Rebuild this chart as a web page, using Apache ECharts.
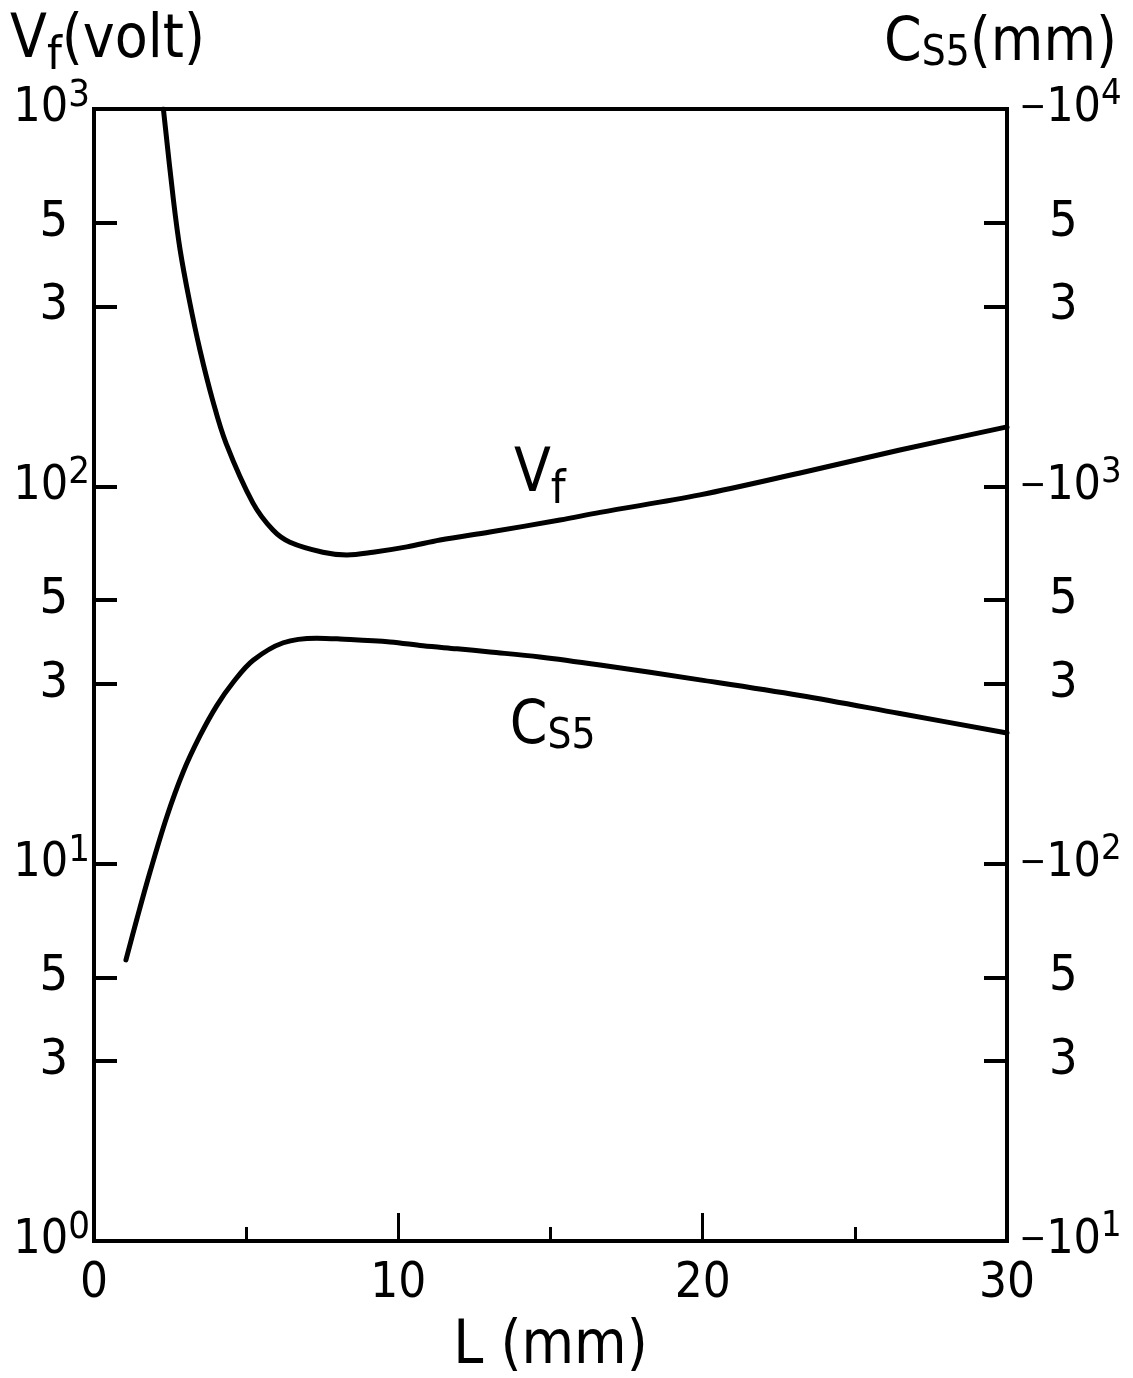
<!DOCTYPE html>
<html>
<head>
<meta charset="utf-8">
<script src="https://cdn.jsdelivr.net/npm/echarts@6/dist/echarts.min.js"></script>
<style>
  html, body { margin: 0; padding: 0; background: #fff; }
  #chart { width: 1133px; height: 1378px; }
</style>
</head>
<body>
<div id="chart"></div>
<script>
// Floating voltage Vf (volt) against electrode length L (mm)
const lengthVf = [2.28, 2.61, 2.83, 3.13, 3.48, 3.90, 4.34, 5.22, 5.88, 6.44, 7.52, 8.31, 9.17,
  10.28, 11.37, 13.01, 15.31, 16.63, 19.91, 23.2, 26.48, 30];
const voltageVf = [1000, 574, 423, 312, 230, 169, 130, 90.4, 76.6, 71.1, 66.9, 65.8, 66.9,
  69.1, 72.1, 75.7, 81.4, 85.3, 94.9, 108.5, 124.8, 143.7];

// Spherical aberration coefficient Cs5 (mm, negative) against L (mm)
const lengthCs5 = [1.05, 1.40, 1.84, 2.39, 2.93, 3.48, 4.03, 4.58, 5.23, 6.22, 7.32, 8.08,
  9.73, 10.81, 11.93, 13.01, 14.65, 16.63, 19.91, 23.2, 26.48, 30];
const cs5Values = [-55.6, -70.9, -95, -133, -175, -218, -262, -303, -346, -385, -396, -394,
  -387, -378, -371, -364, -353, -336, -307, -279, -250, -222];

// Tick values
const leftTicks = [1, 3, 5, 10, 30, 50, 100, 300, 500, 1000];
const rightTicks = [10, 30, 50, 100, 300, 500, 1000, 3000, 5000, 10000];

const FONT = '"DejaVu Sans Condensed", "Liberation Sans Narrow", "DejaVu Sans", sans-serif';
const INK = '#000';

function decadeOf(v) {
  const e = Math.round(Math.log10(v));
  return Math.abs(Math.pow(10, e) - v) < 1e-6 * v ? e : null;
}
function leadDigit(v) {
  return String(Math.round(v / Math.pow(10, Math.floor(Math.log10(v) + 1e-9))));
}

const chart = echarts.init(document.getElementById('chart'), null, { renderer: 'canvas' });

const textRich = {
  big: { fontFamily: FONT, fontSize: 60, lineHeight: 60, color: INK },
  subV: { fontFamily: FONT, fontSize: 47, lineHeight: 46, padding: [32, 0, 0, 0], color: INK },
  subC: { fontFamily: FONT, fontSize: 42, lineHeight: 41, padding: [20, 0, 0, 0], color: INK }
};

const option = {
  backgroundColor: '#fff',
  animation: false,
  grid: {
    left: 94, right: 126, top: 109, bottom: 137,
    containLabel: false,
    outerBoundsMode: 'none',
    show: true, borderColor: INK, borderWidth: 4
  },
  xAxis: {
    type: 'value',
    min: 0, max: 30, interval: 10,
    name: 'L (mm)',
    nameLocation: 'middle',
    nameGap: 76,
    nameTextStyle: { fontFamily: FONT, fontSize: 60, color: INK },
    axisLine: { show: true, lineStyle: { color: INK, width: 4 } },
    axisTick: { show: true, inside: true, length: 28, lineStyle: { color: INK, width: 3 } },
    minorTick: { show: true, splitNumber: 2, length: 14, lineStyle: { color: INK, width: 3 } },
    splitLine: { show: false },
    axisLabel: { fontFamily: FONT, fontSize: 49, color: INK, margin: 19 }
  },
  yAxis: [
    {
      type: 'log', logBase: 10, min: 1, max: 1000,
      position: 'left',
      axisLine: { show: true, lineStyle: { color: INK, width: 4 } },
      axisTick: { show: true, inside: true, length: 23, customValues: leftTicks,
        lineStyle: { color: INK, width: 4 } },
      splitLine: { show: false },
      axisLabel: {
        customValues: leftTicks,
        margin: 4,
        formatter: function (v) {
          const e = decadeOf(v);
          return e !== null ? '{b|10}{s|' + e + '}' : '{d|' + leadDigit(v) + '}';
        },
        rich: {
          b: { fontFamily: FONT, fontSize: 48, lineHeight: 64, color: INK },
          s: { fontFamily: FONT, fontSize: 38, lineHeight: 34, verticalAlign: 'top', color: INK },
          d: { fontFamily: FONT, fontSize: 50, lineHeight: 64, padding: [0, 22, 0, 0], color: INK }
        }
      }
    },
    {
      type: 'log', logBase: 10, min: 10, max: 10000,
      position: 'right',
      axisLine: { show: true, lineStyle: { color: INK, width: 4 } },
      axisTick: { show: true, inside: true, length: 23, customValues: rightTicks,
        lineStyle: { color: INK, width: 4 } },
      splitLine: { show: false },
      axisLabel: {
        customValues: rightTicks,
        margin: 12,
        formatter: function (v) {
          const e = decadeOf(v);
          return e !== null ? '{m|\u2212}{b|10}{s|' + e + '}' : '{d|' + leadDigit(v) + '}';
        },
        rich: {
          m: { fontFamily: FONT, fontSize: 36, lineHeight: 64, color: INK },
          b: { fontFamily: FONT, fontSize: 48, lineHeight: 64, color: INK },
          s: { fontFamily: FONT, fontSize: 36, lineHeight: 34, verticalAlign: 'top', color: INK },
          d: { fontFamily: FONT, fontSize: 50, lineHeight: 64, padding: [0, 0, 0, 30], color: INK }
        }
      }
    }
  ],
  series: [
    {
      name: 'Vf',
      type: 'line',
      yAxisIndex: 0,
      data: lengthVf.map((x, i) => [x, voltageVf[i]]),
      smooth: 0.35,
      showSymbol: false,
      clip: true,
      lineStyle: { color: INK, width: 5, cap: 'round', join: 'round' },
      markPoint: {
        symbol: 'circle', symbolSize: 1,
        itemStyle: { color: 'rgba(0,0,0,0)' },
        label: {
          show: true, position: 'inside',
          formatter: '{big|V}{subV|f}',
          rich: textRich
        },
        data: [{ coord: [14.65, 107] }]
      }
    },
    {
      name: 'Cs5',
      type: 'line',
      yAxisIndex: 1,
      data: lengthCs5.map((x, i) => [x, -cs5Values[i]]),
      smooth: 0.35,
      showSymbol: false,
      clip: true,
      lineStyle: { color: INK, width: 5, cap: 'round', join: 'round' },
      markPoint: {
        symbol: 'circle', symbolSize: 1,
        itemStyle: { color: 'rgba(0,0,0,0)' },
        label: {
          show: true, position: 'inside',
          formatter: '{big|C}{subC|S5}',
          rich: textRich
        },
        data: [{ coord: [15.07, 230] }]
      }
    }
  ],
  graphic: [
    {
      type: 'text', x: 10, y: 11,
      style: { text: '{big|V}{subV|f}{big|(volt)}', rich: textRich }
    },
    {
      type: 'text', x: 884, y: 14,
      style: { text: '{big|C}{subC|S5}{big|(mm)}', rich: textRich }
    }
  ]
};

chart.setOption(option);
</script>
</body>
</html>
